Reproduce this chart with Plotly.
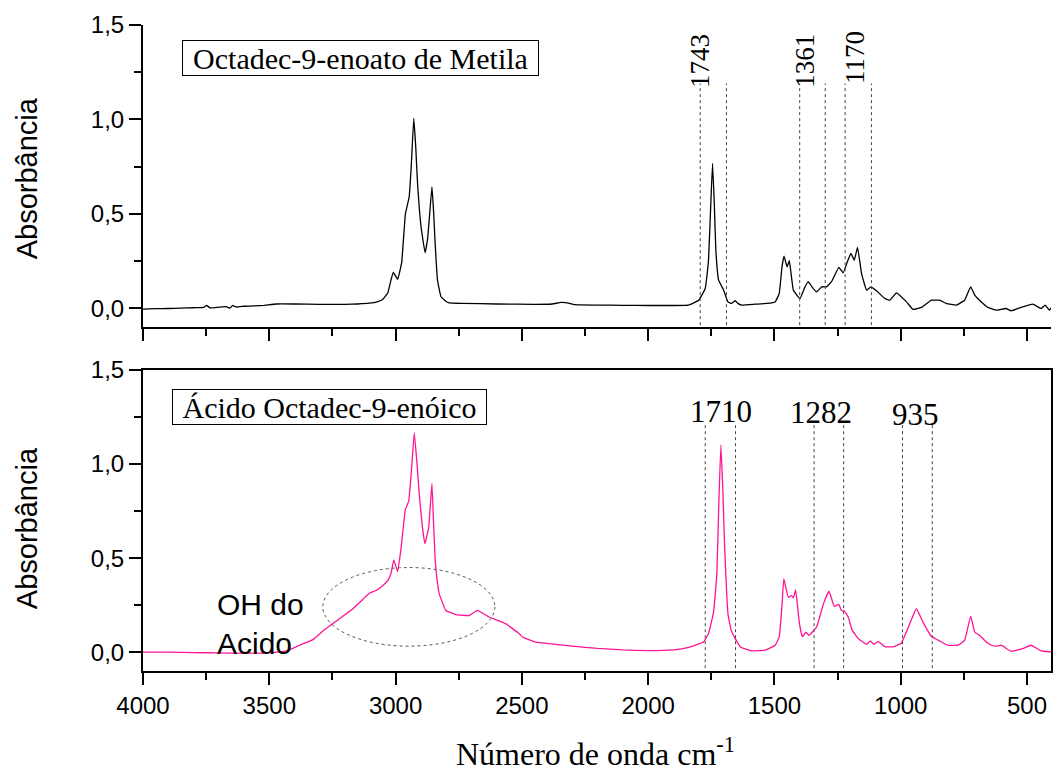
import plotly.graph_objects as go

# ---------------- data ----------------
wn_top = [4000, 3950, 3900, 3850, 3800, 3760, 3748, 3735, 3700, 3670, 3656, 3645, 3630, 3600, 3560, 3520,
          3472, 3400, 3300, 3200, 3150, 3104, 3070, 3051, 3031, 3018, 3009, 2992, 2976, 2961, 2946, 2938,
          2928, 2920, 2913, 2899, 2883, 2873, 2867, 2856, 2849, 2844, 2834, 2820, 2800, 2788, 2735, 2600,
          2450, 2380, 2345, 2320, 2290, 2200, 2100, 2000, 1900, 1840, 1800, 1774, 1761, 1752, 1745, 1738,
          1732, 1721, 1701, 1684, 1669, 1655, 1645, 1629, 1576, 1530, 1497, 1481, 1470, 1462, 1450, 1441,
          1425, 1399, 1380, 1366, 1350, 1333, 1313, 1294, 1274, 1245, 1228, 1210, 1197, 1184, 1171, 1155,
          1135, 1118, 1096, 1063, 1043, 1017, 977, 951, 918, 878, 846, 820, 780, 747, 723, 707, 688, 655,
          622, 583, 563, 523, 477, 444, 428, 411, 402]
abs_top = [-0.005, -0.003, -0.002, 0.000, 0.002, 0.004, 0.014, 0.002, 0.005, 0.008, 0.000, 0.014, 0.006, 0.010,
           0.012, 0.015, 0.022, 0.022, 0.020, 0.020, 0.022, 0.026, 0.035, 0.046, 0.080, 0.150, 0.190, 0.153,
           0.240, 0.500, 0.590, 0.750, 1.005, 0.850, 0.660, 0.430, 0.293, 0.370, 0.466, 0.643, 0.500, 0.360,
           0.148, 0.060, 0.035, 0.028, 0.025, 0.022, 0.020, 0.022, 0.030, 0.028, 0.018, 0.016, 0.015, 0.014,
           0.014, 0.016, 0.042, 0.104, 0.254, 0.550, 0.767, 0.550, 0.307, 0.148, 0.095, 0.033, 0.025, 0.039,
           0.025, 0.016, 0.021, 0.025, 0.033, 0.078, 0.220, 0.276, 0.219, 0.251, 0.095, 0.051, 0.110, 0.140,
           0.110, 0.086, 0.113, 0.113, 0.140, 0.216, 0.187, 0.250, 0.290, 0.254, 0.322, 0.183, 0.095, 0.113,
           0.092, 0.051, 0.042, 0.081, 0.033, -0.007, 0.004, 0.042, 0.042, 0.025, 0.016, 0.042, 0.113, 0.069,
           0.042, 0.004, -0.011, -0.002, -0.014, 0.004, 0.021, -0.002, 0.016, -0.011, 0.006]

wn_bot = [4000, 3900, 3800, 3700, 3600, 3511, 3470, 3432, 3380, 3327, 3290, 3248, 3210, 3169, 3130, 3103,
          3077, 3050, 3031, 3018, 3007, 2992, 2978, 2961, 2948, 2938, 2926, 2915, 2906, 2895, 2884, 2869,
          2856, 2850, 2843, 2835, 2827, 2801, 2761, 2709, 2676, 2630, 2564, 2511, 2498, 2445, 2393, 2300,
          2200, 2100, 2000, 1900, 1840, 1781, 1761, 1741, 1728, 1720, 1712, 1704, 1697, 1684, 1671, 1655,
          1635, 1590, 1537, 1497, 1481, 1470, 1463, 1445, 1432, 1425, 1416, 1401, 1389, 1376, 1363, 1333,
          1306, 1284, 1263, 1245, 1235, 1222, 1208, 1192, 1168, 1135, 1120, 1106, 1089, 1063, 1030, 997,
          964, 938, 912, 879, 846, 813, 773, 747, 723, 707, 688, 661, 641, 622, 602, 563, 517, 484, 444, 405]
abs_bot = [0.000, 0.000, -0.002, -0.004, -0.005, -0.005, 0.000, 0.007, 0.037, 0.067, 0.110, 0.152, 0.190,
           0.231, 0.280, 0.315, 0.328, 0.355, 0.380, 0.420, 0.491, 0.428, 0.556, 0.759, 0.803, 0.950, 1.167,
           1.000, 0.838, 0.680, 0.577, 0.662, 0.896, 0.700, 0.486, 0.380, 0.310, 0.222, 0.200, 0.195, 0.222,
           0.187, 0.152, 0.099, 0.081, 0.054, 0.046, 0.032, 0.020, 0.012, 0.008, 0.012, 0.025, 0.054, 0.099,
           0.213, 0.416, 0.800, 1.102, 0.850, 0.556, 0.204, 0.116, 0.072, 0.028, 0.007, 0.011, 0.037, 0.081,
           0.250, 0.389, 0.292, 0.301, 0.289, 0.331, 0.152, 0.081, 0.107, 0.090, 0.134, 0.257, 0.324, 0.243,
           0.254, 0.222, 0.218, 0.187, 0.116, 0.072, 0.042, 0.060, 0.042, 0.056, 0.030, 0.028, 0.049, 0.152,
           0.231, 0.160, 0.085, 0.060, 0.037, 0.037, 0.063, 0.192, 0.107, 0.090, 0.054, 0.037, 0.032, 0.037,
           0.005, 0.019, 0.037, 0.007, 0.002]

x_tickvals = [4000, 3500, 3000, 2500, 2000, 1500, 1000, 500]
x_ticktext = ["4000", "3500", "3000", "2500", "2000", "1500", "1000", "500"]
x_minor = [3750, 3250, 2750, 2250, 1750, 1250, 750]
y_tickvals = [0.0, 0.5, 1.0, 1.5]
y_ticktext = ["0,0", "0,5", "1,0", "1,5"]
y_minor = [0.25, 0.75, 1.25]

# guide lines (wavenumber) and peak labels
top_guides = [1794, 1690, 1400, 1299, 1220, 1116]
bot_guides = [1774, 1654, 1343, 1226, 993, 875]
top_labels = ["1743", "1361", "1170"]
top_label_x = [1794, 1379, 1181]
top_label_y = [1.31, 1.31, 1.325]
bot_labels = ["1710", "1282", "935"]
bot_label_x = [1713, 1314, 943]
bot_label_y = [1.278, 1.273, 1.263]

X_RANGE = [4000, 405]
Y_RANGE = [-0.1, 1.5]

# ---------------- figure ----------------
fig = go.Figure()
fig.add_trace(go.Scatter(x=wn_top, y=abs_top, mode="lines", xaxis="x", yaxis="y",
                         line=dict(color="black", width=1.3, shape="spline", smoothing=0.3),
                         showlegend=False, hoverinfo="skip"))
fig.add_trace(go.Scatter(x=wn_bot, y=abs_bot, mode="lines", xaxis="x2", yaxis="y2",
                         line=dict(color="#ff1493", width=1.3, shape="spline", smoothing=0.3),
                         showlegend=False, hoverinfo="skip"))

tickfont = dict(family="Liberation Sans, Arial", size=24, color="black")
common_x = dict(range=X_RANGE, autorange=False, showline=True, linecolor="black", linewidth=2,
                ticks="outside", ticklen=12, tickwidth=2, tickcolor="black",
                tickmode="array", tickvals=x_tickvals, ticktext=x_ticktext,
                minor=dict(tickvals=x_minor, ticks="outside", ticklen=7, tickwidth=2, tickcolor="black"),
                showgrid=False, zeroline=False, tickfont=tickfont)
common_y = dict(range=Y_RANGE, autorange=False, showline=True, linecolor="black", linewidth=2,
                ticks="outside", ticklen=12, tickwidth=2, tickcolor="black",
                tickmode="array", tickvals=y_tickvals, ticktext=y_ticktext,
                minor=dict(tickvals=y_minor, ticks="outside", ticklen=7, tickwidth=2, tickcolor="black"),
                showgrid=False, zeroline=False, tickfont=tickfont)

TOP_DOM = [0.5325, 1.0]
BOT_DOM = [0.0, 0.4659]

fig.update_layout(
    width=1054, height=775,
    margin=dict(l=143, r=1, t=25, b=104),
    paper_bgcolor="white", plot_bgcolor="white",
    xaxis=dict(common_x, anchor="y", showticklabels=False),
    yaxis=dict(common_y, domain=TOP_DOM, anchor="x"),
    xaxis2=dict(common_x, anchor="y2", mirror=True),
    yaxis2=dict(common_y, domain=BOT_DOM, anchor="x2", mirror=True),
)

shapes = []
for g in top_guides:
    shapes.append(dict(type="line", xref="x", yref="y", x0=g, x1=g, y0=-0.09, y1=1.19,
                       line=dict(color="#444", width=1, dash="dot")))
for g in bot_guides:
    shapes.append(dict(type="line", xref="x2", yref="y2", x0=g, x1=g, y0=-0.085, y1=1.22,
                       line=dict(color="#444", width=1, dash="dot")))
shapes.append(dict(type="circle", xref="x2", yref="y2", x0=3288, x1=2607, y0=0.032, y1=0.45,
                   line=dict(color="#555", width=1, dash="dot")))
fig.update_layout(shapes=shapes)

serif = "Liberation Serif, Times New Roman"
sans = "Liberation Sans, Arial"
ann = []
ann.append(dict(text="Octadec-9-enoato de Metila", xref="x", yref="y", x=3846, y=1.325,
                xanchor="left", yanchor="middle", showarrow=False, width=355, height=34,
                bordercolor="black", borderwidth=1, borderpad=0, bgcolor="white",
                font=dict(family=serif, size=30, color="black")))
ann.append(dict(text="Ácido Octadec-9-enóico", xref="x2", yref="y2", x=3885, y=1.305,
                xanchor="left", yanchor="middle", showarrow=False, width=313, height=34,
                bordercolor="black", borderwidth=1, borderpad=0, bgcolor="white",
                font=dict(family=serif, size=30, color="black")))
for t, x, y in zip(top_labels, top_label_x, top_label_y):
    ann.append(dict(text=t, xref="x", yref="y", x=x, y=y, textangle=-90, showarrow=False,
                    xanchor="center", yanchor="middle", font=dict(family=serif, size=27, color="black")))
for t, x, y in zip(bot_labels, bot_label_x, bot_label_y):
    ann.append(dict(text=t, xref="x2", yref="y2", x=x, y=y, showarrow=False,
                    xanchor="center", yanchor="middle", font=dict(family=serif, size=31, color="black")))
ann.append(dict(text="OH do<br>Acido", xref="x2", yref="y2", x=3716, y=0.148, align="left",
                xanchor="left", yanchor="middle", showarrow=False,
                font=dict(family=sans, size=30, color="black")))
for yc in (0.763, 0.2214):
    ann.append(dict(text="Absorbância", xref="paper", yref="paper", x=-0.1275, y=yc, textangle=-90,
                    xanchor="center", yanchor="middle", showarrow=False,
                    font=dict(family=sans, size=29, color="black")))
ann.append(dict(text="Número de onda cm<sup>-1</sup>", xref="paper", yref="paper", x=0.498, y=-0.125,
                xanchor="center", yanchor="middle", showarrow=False,
                font=dict(family=serif, size=32, color="black")))
fig.update_layout(annotations=ann)

fig.write_html("out.html")
